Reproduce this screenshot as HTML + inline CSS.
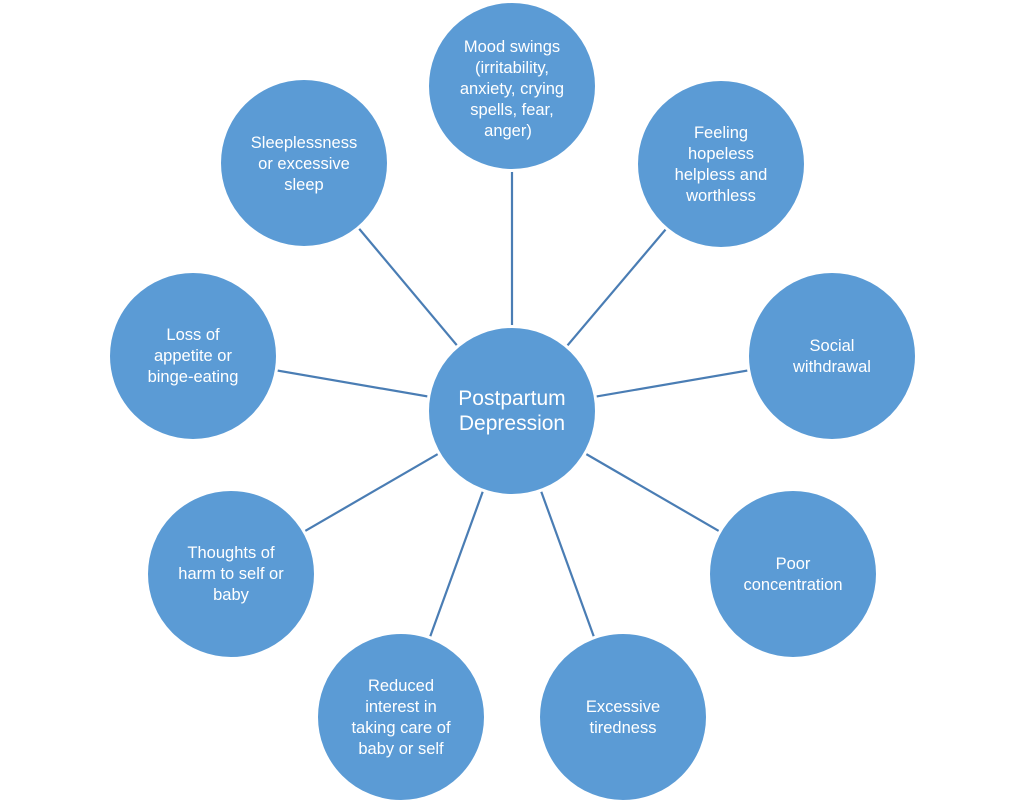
<!DOCTYPE html>
<html>
<head>
<meta charset="utf-8">
<style>
  html,body{margin:0;padding:0;background:#fff;}
  svg{display:block;}
  text{font-family:"Liberation Sans",Arial,sans-serif;fill:#ffffff;text-anchor:middle;}
  .o{font-size:16.5px;}
  .c{font-size:21px;}
</style>
</head>
<body>
<svg width="1024" height="806" viewBox="0 0 1024 806" xmlns="http://www.w3.org/2000/svg">
  <g stroke="#4a7db4" stroke-width="2.2" stroke-linecap="butt">
    <line x1="512" y1="411" x2="512" y2="86"/>
    <line x1="512" y1="411" x2="721" y2="164"/>
    <line x1="512" y1="411" x2="832" y2="356"/>
    <line x1="512" y1="411" x2="793" y2="574"/>
    <line x1="512" y1="411" x2="623" y2="717"/>
    <line x1="512" y1="411" x2="401" y2="717"/>
    <line x1="512" y1="411" x2="231" y2="574"/>
    <line x1="512" y1="411" x2="193" y2="356"/>
    <line x1="512" y1="411" x2="304" y2="163"/>
  </g>
  <g fill="#5b9bd5" stroke="#ffffff" stroke-width="3">
    <circle cx="512" cy="411" r="84.5"/>
    <circle cx="512" cy="86" r="84.5"/>
    <circle cx="721" cy="164" r="84.5"/>
    <circle cx="832" cy="356" r="84.5"/>
    <circle cx="793" cy="574" r="84.5"/>
    <circle cx="623" cy="717" r="84.5"/>
    <circle cx="401" cy="717" r="84.5"/>
    <circle cx="231" cy="574" r="84.5"/>
    <circle cx="193" cy="356" r="84.5"/>
    <circle cx="304" cy="163" r="84.5"/>
  </g>

  <text class="c" x="512" y="405">Postpartum</text>
  <text class="c" x="512" y="430">Depression</text>

  <text class="o" x="512" y="52">Mood swings</text>
  <text class="o" x="512" y="73">(irritability,</text>
  <text class="o" x="512" y="94">anxiety, crying</text>
  <text class="o" x="512" y="115">spells, fear,</text>
  <text class="o" x="508" y="136">anger)</text>

  <text class="o" x="721" y="138">Feeling</text>
  <text class="o" x="721" y="159">hopeless</text>
  <text class="o" x="721" y="180">helpless and</text>
  <text class="o" x="721" y="201">worthless</text>

  <text class="o" x="832" y="351">Social</text>
  <text class="o" x="832" y="372">withdrawal</text>

  <text class="o" x="793" y="569">Poor</text>
  <text class="o" x="793" y="590">concentration</text>

  <text class="o" x="623" y="712">Excessive</text>
  <text class="o" x="623" y="733">tiredness</text>

  <text class="o" x="401" y="691">Reduced</text>
  <text class="o" x="401" y="712">interest in</text>
  <text class="o" x="401" y="733">taking care of</text>
  <text class="o" x="401" y="754">baby or self</text>

  <text class="o" x="231" y="558">Thoughts of</text>
  <text class="o" x="231" y="579">harm to self or</text>
  <text class="o" x="231" y="600">baby</text>

  <text class="o" x="193" y="340">Loss of</text>
  <text class="o" x="193" y="361">appetite or</text>
  <text class="o" x="193" y="382">binge-eating</text>

  <text class="o" x="304" y="148">Sleeplessness</text>
  <text class="o" x="304" y="169">or excessive</text>
  <text class="o" x="304" y="190">sleep</text>
</svg>
</body>
</html>
